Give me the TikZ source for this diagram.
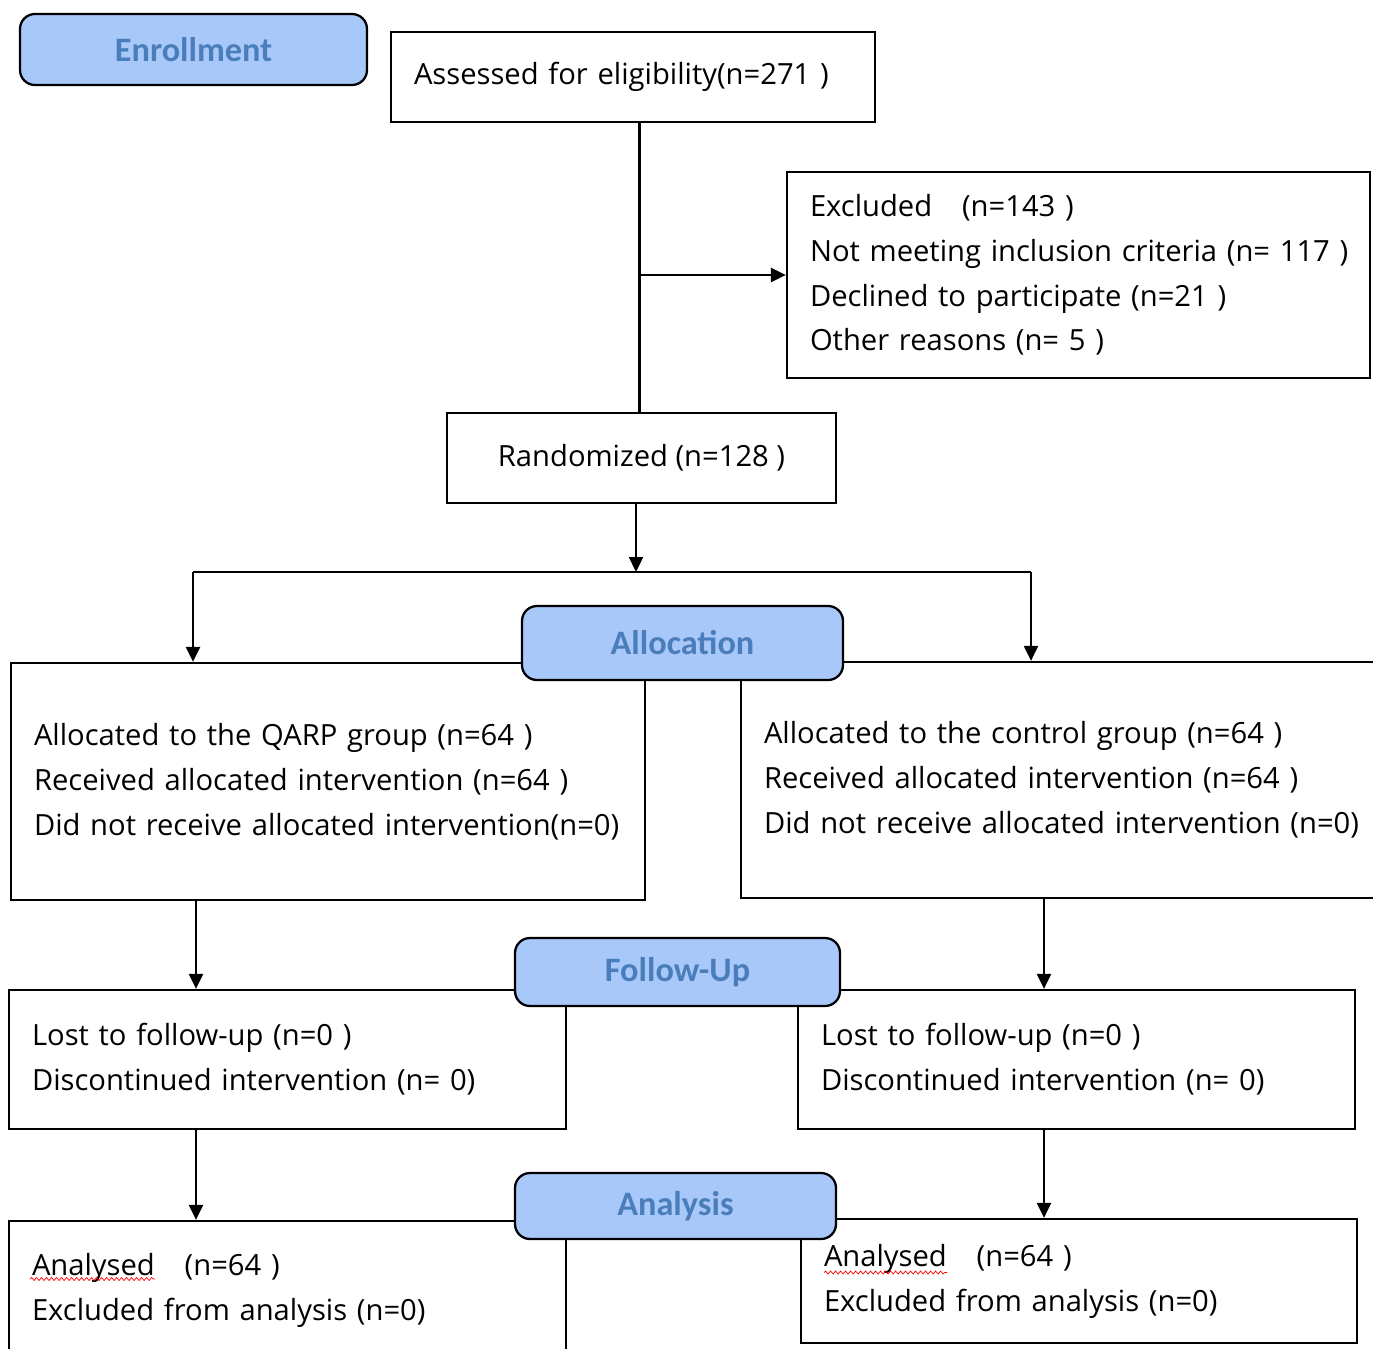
\documentclass[tikz,border=0pt]{standalone}
\usepackage{fontspec}
\setmainfont{Open Sans}
\newfontfamily\stagefont{Carlito}
\usepackage{xcolor}
\usetikzlibrary{arrows.meta,decorations.pathmorphing}
\definecolor{stagefill}{HTML}{A9C8FA}
\definecolor{stagetext}{HTML}{4A7EBB}

\begin{document}
\begin{tikzpicture}[line width=1.3pt,
    every node/.style={font=\fontsize{16.6}{25.5}\selectfont},
    stage/.style={draw, rectangle, rounded corners=0.3cm, fill=stagefill, text=stagetext, font=\stagefont\bfseries\fontsize{19.5}{22}\selectfont},
    info/.style={draw, rectangle, fill=white, align=left, inner xsep=0.46cm},
    arr/.style={-{Triangle[length=0.3cm,width=0.28cm]}},
    spell/.style={red, line width=0.4pt, decorate, decoration={snake, amplitude=0.03cm, segment length=0.1cm}}]
    \useasboundingbox (0,0) rectangle (27.46,-26.96);

    % Enrollment
    \node[info, minimum width=9.68cm, minimum height=1.8cm, text width=8.76cm] (assess) at (12.66,-1.54) {Assessed for eligibility(n=271 )};
    \node[info, minimum width=11.66cm, minimum height=4.12cm, text width=10.74cm] (excl) at (21.57,-5.5)
        {Excluded\hspace{17pt}(n=143 )\\\mbox{Not meeting inclusion criteria (n= 117 )}\\Declined to participate (n=21 )\\Other reasons (n= 5 )};
    \node[info, align=center, minimum width=7.78cm, minimum height=1.8cm] (rand) at (12.83,-9.16) {Randomized (n=128 )};

    % Allocation
    \node[info, minimum width=12.68cm, minimum height=4.74cm, text width=11.76cm] (lalloc) at (6.56,-15.63)
        {Allocated to the QARP group (n=64 )\\Received allocated intervention (n=64 )\\Did not receive allocated intervention(n=0)};
    \node[info, minimum width=13.18cm, minimum height=4.72cm, text width=12.26cm] (ralloc) at (21.41,-15.6)
        {Allocated to the control group (n=64 )\\Received allocated intervention (n=64 )\\Did not receive allocated intervention (n=0)};

    % Follow-up
    \node[info, minimum width=11.14cm, minimum height=2.78cm, text width=10.22cm] (lfu) at (5.75,-21.19)
        {Lost to follow-up (n=0 )\\Discontinued intervention (n= 0)};
    \node[info, minimum width=11.14cm, minimum height=2.78cm, text width=10.22cm] (rfu) at (21.53,-21.19)
        {Lost to follow-up (n=0 )\\Discontinued intervention (n= 0)};

    % Analysis
    \node[info, minimum width=11.14cm, minimum height=2.78cm, text width=10.22cm] (lana) at (5.75,-25.81)
        {Analysed\hspace{17pt}(n=64 )\\Excluded from analysis (n=0)};
    \node[info, minimum width=11.12cm, minimum height=2.48cm, text width=10.2cm] (rana) at (21.58,-25.62)
        {Analysed\hspace{17pt}(n=64 )\\Excluded from analysis (n=0)};
    \draw[spell] (0.6,-25.58) -- (3.1,-25.58);
    \draw[spell] (16.48,-25.45) -- (18.94,-25.45);

    % Stage headers
    \node[stage, minimum width=6.94cm, minimum height=1.42cm] (enrol) at (3.87,-0.99) {Enrollment};
    \node[stage, minimum width=6.42cm, minimum height=1.48cm] (alloc) at (13.65,-12.86) {Allocation};
    \node[stage, minimum width=6.5cm, minimum height=1.36cm] (follow) at (13.55,-19.44) {Follow-Up};
    \node[stage, minimum width=6.42cm, minimum height=1.32cm] (analysis) at (13.51,-24.12) {Analysis};

    % Arrows
    \coordinate (trunk) at (12.79,-5.5);
    \draw (assess.south -| trunk) -- (rand.north -| trunk);
    \draw[arr] (trunk) -- (excl.west);
    \coordinate (split) at (12.72,-11.44);
    \coordinate (lsplit) at (3.86,-11.44);
    \coordinate (rsplit) at (20.62,-11.44);
    \draw[arr] (rand.south -| split) -- (split);
    \draw (lsplit) -- (rsplit);
    \draw[arr] (lsplit) -- (lalloc.north -| lsplit);
    \draw[arr] (rsplit) -- (ralloc.north -| rsplit);
    \coordinate (lcol) at (3.92,0);
    \coordinate (rcol) at (20.88,0);
    \draw[arr] (lalloc.south -| lcol) -- (lfu.north -| lcol);
    \draw[arr] (ralloc.south -| rcol) -- (rfu.north -| rcol);
    \draw[arr] (lfu.south -| lcol) -- (lana.north -| lcol);
    \draw[arr] (rfu.south -| rcol) -- (rana.north -| rcol);
\end{tikzpicture}
\end{document}
